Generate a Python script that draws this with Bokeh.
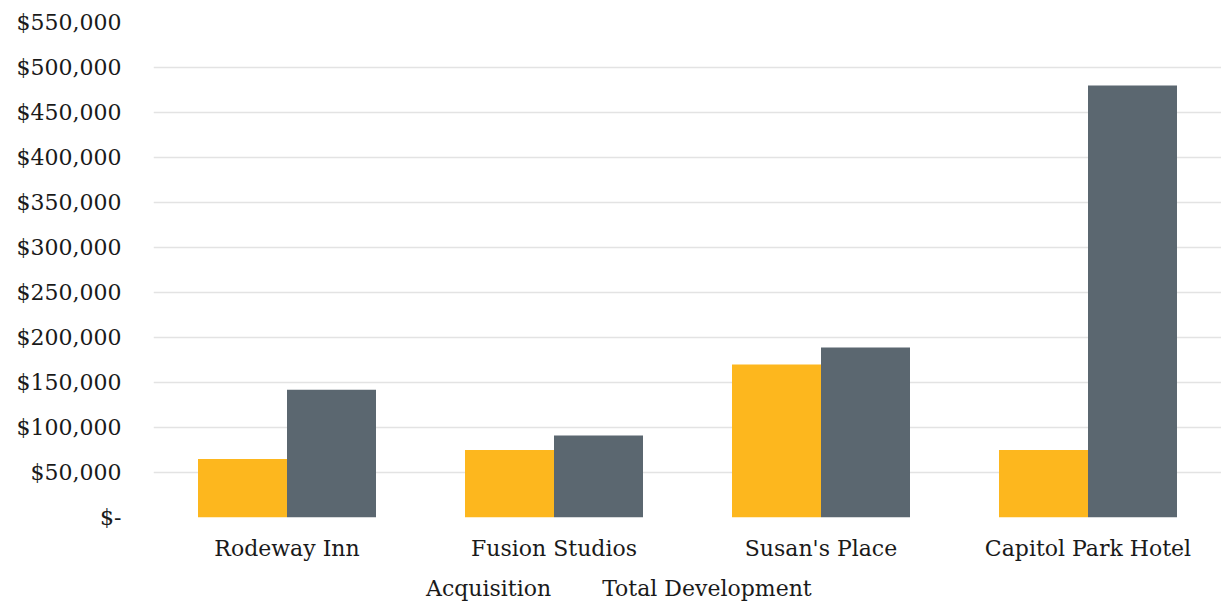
from bokeh.plotting import figure
from bokeh.layouts import column
from bokeh.models import (FactorRange, Legend, LegendItem, FixedTicker, Range1d,
                          ColumnDataSource, CDSView, IndexFilter)
from bokeh.transform import dodge
from bokeh.embed import file_html
from bokeh.resources import INLINE

categories = ["Rodeway Inn", "Fusion Studios", "Susan's Place", "Capitol Park Hotel"]
acquisition = [65000, 75000, 170000, 75000]
total_development = [142000, 91000, 189000, 480000]
y_ticks = [0, 50000, 100000, 150000, 200000, 250000, 300000, 350000, 400000, 450000, 500000, 550000]
y_tick_labels = ["$-"] + ["${:,}".format(v) for v in y_ticks[1:]]

FONT = "DejaVu Serif"
ORANGE = "#FDB71E"
GRAY = "#5B6770"

source = ColumnDataSource(dict(cat=categories, acq=acquisition, td=total_development))

p = figure(width=1221, height=565, x_range=FactorRange(*categories),
           y_range=Range1d(0, 550000), output_backend="svg", toolbar_location=None,
           min_border_left=153, min_border_right=0, min_border_top=22, min_border_bottom=48)
p.outline_line_color = None
p.background_fill_color = "white"
p.border_fill_color = "white"

p.vbar(x=dodge("cat", -1/6, range=p.x_range), top="acq", width=1/3, source=source,
       fill_color=ORANGE, line_color=None)
p.vbar(x=dodge("cat", 1/6, range=p.x_range), top="td", width=1/3, source=source,
       fill_color=GRAY, line_color=None)

p.yaxis.ticker = FixedTicker(ticks=y_ticks)
p.yaxis.major_label_overrides = {v: l for v, l in zip(y_ticks, y_tick_labels)}
for ax in (p.xaxis, p.yaxis):
    ax.axis_line_color = None
    ax.major_tick_line_color = None
    ax.minor_tick_line_color = None
    ax.major_tick_out = 0
    ax.major_tick_in = 0
    ax.major_label_text_font = FONT
    ax.major_label_text_font_size = "22px"
    ax.major_label_text_color = "#1a1a1a"
p.yaxis.major_label_standoff = 32
p.xaxis.major_label_standoff = 18
p.xgrid.grid_line_color = None
p.ygrid.grid_line_color = "#e3e3e3"
p.ygrid.grid_line_width = 1.5

# legend strip below the chart (legend-only renderers with an empty view)
q = figure(width=1221, height=38, x_range=p.x_range, y_range=Range1d(-2, -1),
           output_backend="svg", toolbar_location=None,
           x_axis_location=None, y_axis_location=None,
           min_border_left=0, min_border_right=0, min_border_top=0, min_border_bottom=0)
q.outline_line_color = None
q.grid.visible = False
q.border_fill_color = "white"
empty = CDSView(filter=IndexFilter(indices=[]))
l1 = q.vbar(x=dodge("cat", -1/6, range=q.x_range), top="acq", width=1/3, source=source,
            view=empty, fill_color=ORANGE, line_color=None)
l2 = q.vbar(x=dodge("cat", 1/6, range=q.x_range), top="td", width=1/3, source=source,
            view=CDSView(filter=IndexFilter(indices=[])), fill_color=GRAY, line_color=None)
legend = Legend(items=[LegendItem(label="Acquisition", renderers=[l1]),
                       LegendItem(label="Total Development", renderers=[l2])],
                orientation="horizontal", location=(254, 2),
                label_text_font=FONT, label_text_font_size="22px", label_text_color="#1a1a1a",
                glyph_width=15, glyph_height=15, spacing=32, label_standoff=4,
                label_height=24, border_line_color=None, background_fill_alpha=0,
                padding=0, margin=0)
q.add_layout(legend, "center")

layout = column(p, q, spacing=0)
open("out.html", "w").write(file_html(layout, INLINE))
